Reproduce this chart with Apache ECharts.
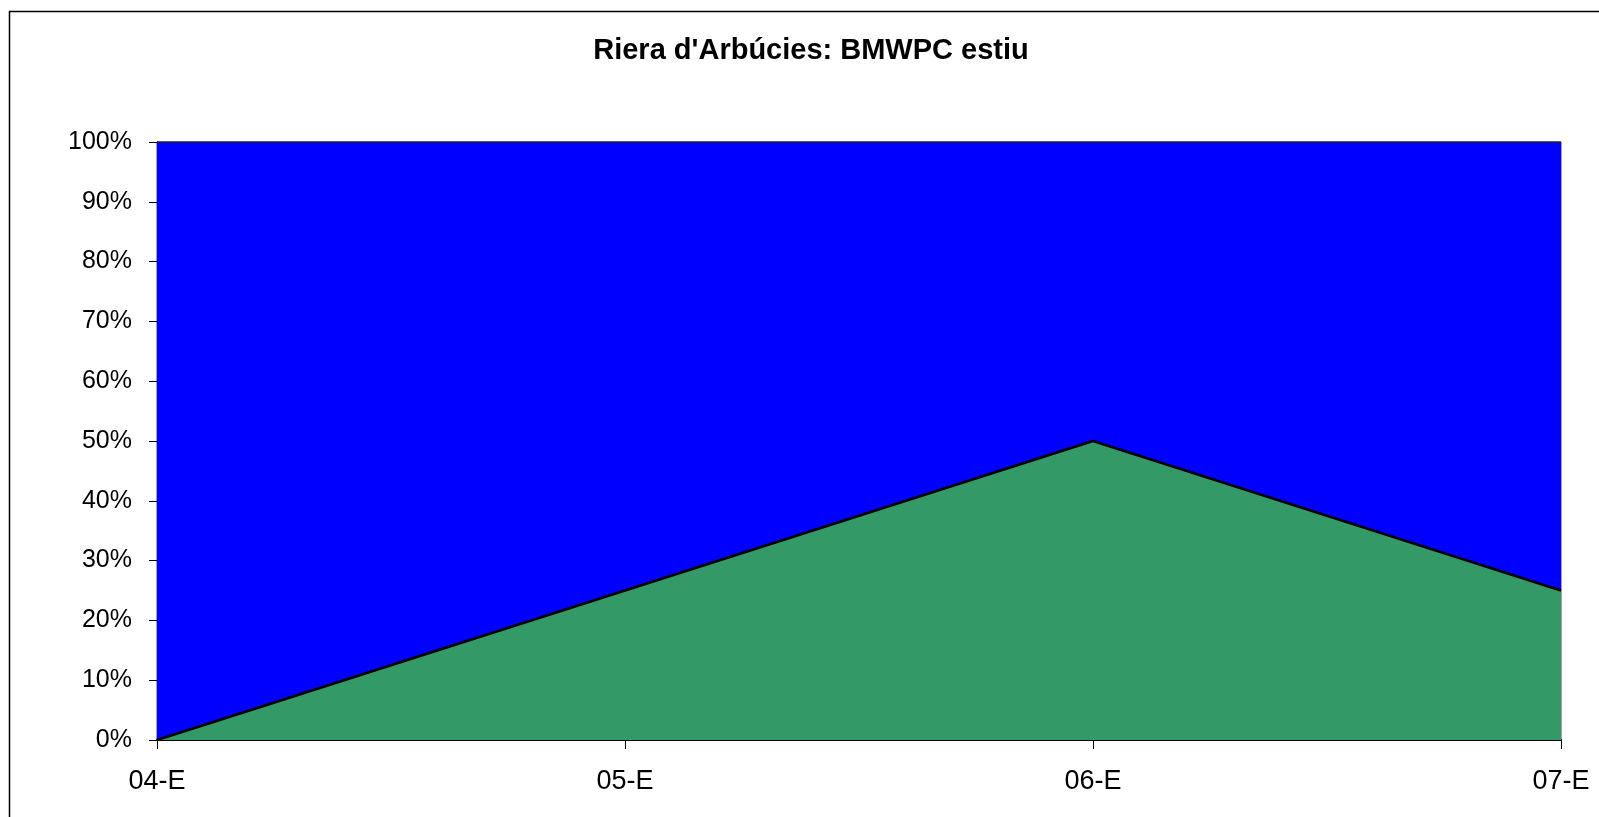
<!DOCTYPE html>
<html>
<head>
<meta charset="utf-8">
<title>Riera d'Arbúcies: BMWPC estiu</title>
<script src="https://cdn.jsdelivr.net/npm/echarts@6/dist/echarts.min.js"></script>
<style>
  html, body { margin: 0; padding: 0; background: #fff; }
  #chart { width: 1599px; height: 817px; }
</style>
</head>
<body>
<div id="chart"></div>
<script>
// Sampling campaigns (summer)
const campaigns = ['04-E', '05-E', '06-E', '07-E'];
// Share of each quality class per campaign (%), stacked to 100%
const lowerShare = [0, 25, 50, 25];
const upperShare = [100, 75, 50, 75];
const titleText = "Riera d'Arbúcies: BMWPC estiu";

const FONT = '"Liberation Sans", Arial, sans-serif';
const chart = echarts.init(document.getElementById('chart'), null, { renderer: 'canvas' });

chart.setOption({
  backgroundColor: '#ffffff',
  animation: false,
  title: {
    text: titleText,
    left: 806,
    top: 31,
    textAlign: 'center',
    textStyle: { fontFamily: FONT, fontSize: 29, fontWeight: 'bold', color: '#000' }
  },
  graphic: [{
    type: 'rect',
    shape: { x: 9.5, y: 11.5, width: 1600, height: 820 },
    style: { fill: 'none', stroke: '#000', lineWidth: 1.5 },
    silent: true
  }],
  grid: {
    left: 157, top: 142, width: 1404, height: 598,
    show: true, borderColor: '#444', borderWidth: 1, backgroundColor: 'transparent'
  },
  xAxis: {
    type: 'category',
    data: campaigns,
    boundaryGap: false,
    axisLine: { lineStyle: { color: '#000', width: 2 } },
    axisTick: { show: true, alignWithLabel: true, length: 9, lineStyle: { color: '#000', width: 1 } },
    axisLabel: { margin: 28, fontFamily: FONT, fontSize: 27, color: '#000' },
    splitLine: { show: false }
  },
  yAxis: {
    type: 'value',
    min: 0, max: 100, interval: 10,
    axisLine: { show: true, lineStyle: { color: '#000', width: 1 } },
    axisTick: { show: true, length: 8, lineStyle: { color: '#000', width: 1 } },
    axisLabel: { margin: 25, fontFamily: FONT, fontSize: 25, color: '#000', formatter: '{value}%' },
    splitLine: { show: false }
  },
  series: [
    {
      name: 'lower',
      type: 'line',
      stack: 'share',
      data: lowerShare,
      showSymbol: false,
      symbol: 'none',
      lineStyle: { color: '#000', width: 2.5 },
      areaStyle: { color: '#339966', opacity: 1 },
      z: 3
    },
    {
      name: 'upper',
      type: 'line',
      stack: 'share',
      data: upperShare,
      showSymbol: false,
      symbol: 'none',
      lineStyle: { color: '#222', width: 1.5 },
      areaStyle: { color: '#0000ff', opacity: 1 },
      z: 2
    }
  ]
});
</script>
</body>
</html>
